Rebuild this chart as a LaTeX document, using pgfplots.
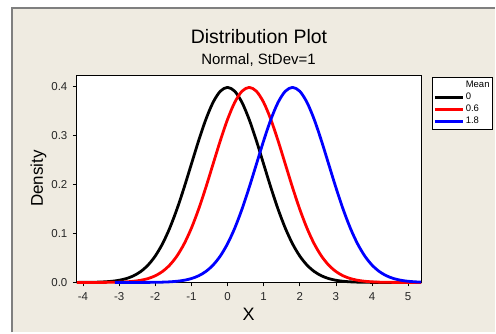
\documentclass[border=0pt]{standalone}
\usepackage{pgfplots}
\pgfplotsset{compat=1.18}
\usepackage{fontspec}
\setmainfont{Liberation Sans}
\definecolor{bg}{HTML}{EFEBE1}
\definecolor{frame}{HTML}{7F7F7F}
\begin{document}
\begin{tikzpicture}[x=1bp,y=1bp]
\fill[white] (0,0) rectangle (496,333);
\fill[bg] (12,0) rectangle (496,325);
\draw[frame, line width=2bp] (12,0) -- (12,325) -- (496,325);
\node[anchor=base] at (259.5,289.7) {\fontsize{19.5bp}{22bp}\selectfont Distribution Plot};
\node[anchor=base] at (259,268.7) {\fontsize{15bp}{17bp}\selectfont Normal, StDev=1};
\begin{axis}[
  at={(77bp,50bp)}, anchor=south west, scale only axis,
  width=345bp, height=207bp,
  xmin=-4.17, xmax=5.36, ymin=0, ymax=0.4225,
  clip=false,
  axis background/.style={fill=white},
  axis line style={black, line width=0.8bp},
  xtick={-4,-3,-2,-1,0,1,2,3,4,5},
  ytick={0,0.1,0.2,0.3,0.4},
  tick align=outside, tick pos=left,
  major tick length=4bp,
  tick style={black, line width=0.7bp},
  /pgf/number format/assume math mode=true,
  yticklabel style={/pgf/number format/fixed, /pgf/number format/fixed zerofill, /pgf/number format/precision=1, xshift=-2bp},
  ticklabel style={font=\fontsize{11.5bp}{13bp}\selectfont, text=black!85},
  xticklabel style={yshift=-3bp},
  legend style={at={(1.032,0.995)}, anchor=north west, draw=black, fill=white,
    font=\fontsize{9.5bp}{10bp}\selectfont, row sep=1bp, inner xsep=1bp, inner ysep=2.5bp,
    nodes={inner sep=1.5bp}},
  legend cell align=left,
  legend image code/.code={\draw[#1, line width=3bp] (0bp,-0.5bp) -- (28bp,-0.5bp);},
]
\addlegendimage{empty legend}
\addlegendentry{Mean}
\addplot[black, line width=2.8bp, smooth, line join=round] coordinates {
(-4.17,0.000067) (-4.0,0.000134) (-3.8,0.000292) (-3.6,0.000612) (-3.4,0.001232)
(-3.2,0.002384) (-3.0,0.004432) (-2.8,0.007915) (-2.6,0.013583) (-2.4,0.022395)
(-2.2,0.035475) (-2.0,0.053991) (-1.8,0.078950) (-1.6,0.110921) (-1.4,0.149727)
(-1.2,0.194186) (-1.0,0.241971) (-0.8,0.289692) (-0.6,0.333225) (-0.4,0.368270)
(-0.2,0.391043) (0.0,0.398942) (0.2,0.391043) (0.4,0.368270) (0.6,0.333225)
(0.8,0.289692) (1.0,0.241971) (1.2,0.194186) (1.4,0.149727) (1.6,0.110921)
(1.8,0.078950) (2.0,0.053991) (2.2,0.035475) (2.4,0.022395) (2.6,0.013583)
(2.8,0.007915) (3.0,0.004432) (3.2,0.002384) (3.4,0.001232) (3.6,0.000612)
(3.8,0.000292) (4.0,0.000134) (4.2,0.000059) (4.4,0.000025) (4.6,0.000010)
(5.36,0)};
\addlegendentry{0}
\addplot[red, line width=2.8bp, smooth, line join=round] coordinates {
(-4.17,0.000020) (-3.8,0.000025) (-3.6,0.000059) (-3.4,0.000134) (-3.2,0.000292)
(-3.0,0.000612) (-2.8,0.001232) (-2.6,0.002384) (-2.4,0.004432) (-2.2,0.007915)
(-2.0,0.013583) (-1.8,0.022395) (-1.6,0.035475) (-1.4,0.053991) (-1.2,0.078950)
(-1.0,0.110921) (-0.8,0.149727) (-0.6,0.194186) (-0.4,0.241971) (-0.2,0.289692)
(0.0,0.333225) (0.2,0.368270) (0.4,0.391043) (0.6,0.398942) (0.8,0.391043)
(1.0,0.368270) (1.2,0.333225) (1.4,0.289692) (1.6,0.241971) (1.8,0.194186)
(2.0,0.149727) (2.2,0.110921) (2.4,0.078950) (2.6,0.053991) (2.8,0.035475)
(3.0,0.022395) (3.2,0.013583) (3.4,0.007915) (3.6,0.004432) (3.8,0.002384)
(4.0,0.001232) (4.2,0.000612) (4.4,0.000292) (4.6,0.000134) (4.8,0.000059)
(5.36,0)};
\addlegendentry{0.6}
\addplot[blue, line width=2.8bp, smooth, line join=round] coordinates {
(-3.12,0.000002) (-3.0,0.000004) (-2.8,0.000010) (-2.6,0.000025) (-2.4,0.000059)
(-2.2,0.000134) (-2.0,0.000292) (-1.8,0.000612) (-1.6,0.001232) (-1.4,0.002384)
(-1.2,0.004432) (-1.0,0.007915) (-0.8,0.013583) (-0.6,0.022395) (-0.4,0.035475)
(-0.2,0.053991) (0.0,0.078950) (0.2,0.110921) (0.4,0.149727) (0.6,0.194186)
(0.8,0.241971) (1.0,0.289692) (1.2,0.333225) (1.4,0.368270) (1.6,0.391043)
(1.8,0.398942) (2.0,0.391043) (2.2,0.368270) (2.4,0.333225) (2.6,0.289692)
(2.8,0.241971) (3.0,0.194186) (3.2,0.149727) (3.4,0.110921) (3.6,0.078950)
(3.8,0.053991) (4.0,0.035475) (4.2,0.022395) (4.4,0.013583) (4.6,0.007915)
(4.8,0.004432) (5.0,0.002384) (5.2,0.001232) (5.36,0.000706)};
\addlegendentry{1.8}
\end{axis}
\node[anchor=base, rotate=90] at (43,154) {\fontsize{17bp}{19bp}\selectfont Density};
\node[anchor=base] at (249,12) {\fontsize{18bp}{20bp}\selectfont X};
\end{tikzpicture}
\end{document}
